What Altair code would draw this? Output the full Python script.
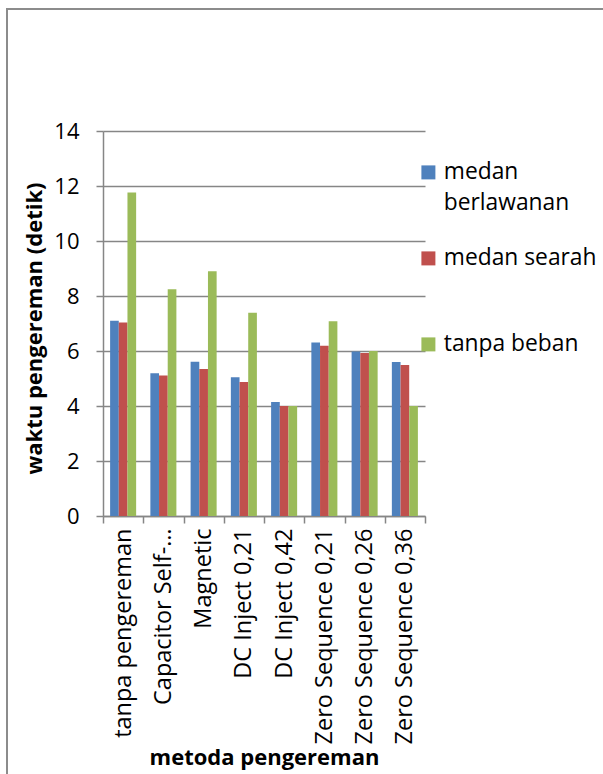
import altair as alt
import pandas as pd

# Braking methods on the x axis and the three load conditions
categories = [
    "tanpa pengereman",
    "Capacitor Self-…",
    "Magnetic",
    "DC Inject 0,21",
    "DC Inject 0,42",
    "Zero Sequence 0,21",
    "Zero Sequence 0,26",
    "Zero Sequence 0,36",
]
series = ["medan berlawanan", "medan searah", "tanpa beban"]

# Braking time (seconds) per method
medan_berlawanan = [7.10, 5.19, 5.61, 5.05, 4.15, 6.31, 5.98, 5.60]
medan_searah = [7.04, 5.11, 5.35, 4.87, 4.00, 6.19, 5.93, 5.49]
tanpa_beban = [11.76, 8.25, 8.90, 7.39, 4.00, 7.08, 6.00, 4.00]

y_ticks = [0, 2, 4, 6, 8, 10, 12, 14]
colors = ["#4F81BD", "#C0504D", "#9BBB59"]

values = {
    "medan berlawanan": medan_berlawanan,
    "medan searah": medan_searah,
    "tanpa beban": tanpa_beban,
}
rows = []
for s in series:
    for c, v in zip(categories, values[s]):
        rows.append({"metode": c, "seri": s, "waktu": v})
df = pd.DataFrame(rows)

GRAY = "#868686"
FONT = "Open Sans"
FS = 22

# Legend labels: the first series wraps onto a second line; the others are
# padded with empty lines so that every legend entry has the same height.
legend_label = (
    "datum.label == 'medan berlawanan' ? ['medan', 'berlawanan', ''] "
    ": [datum.label, '', '']"
)

bars = alt.Chart(df).mark_bar().encode(
    x=alt.X(
        "metode:N",
        sort=categories,
        scale=alt.Scale(paddingInner=0, paddingOuter=0),
        axis=alt.Axis(
            title="metoda pengereman",
            labelAngle=-90,
            labelFontSize=23.5,
            labelColor="#000000",
            labelPadding=5,
            labelLimit=400,
            tickBand="extent",
            tickSize=7,
            tickColor=GRAY,
            tickWidth=1.5,
            domainColor=GRAY,
            domainWidth=1.5,
            grid=False,
            titleFontSize=FS,
            titleFontWeight="bold",
            titleColor="#000000",
            titleY=241,
            titleBaseline="middle",
        ),
    ),
    xOffset=alt.XOffset(
        "seri:N", sort=series, scale=alt.Scale(paddingInner=0, paddingOuter=0.82)
    ),
    y=alt.Y(
        "waktu:Q",
        scale=alt.Scale(domain=[0, 14], nice=False),
        axis=alt.Axis(
            title="waktu pengereman (detik)",
            values=y_ticks,
            grid=True,
            gridColor=GRAY,
            gridWidth=1.5,
            domainColor=GRAY,
            domainWidth=1.5,
            tickColor=GRAY,
            tickWidth=1.5,
            tickSize=7,
            labelFontSize=FS,
            labelColor="#000000",
            labelPadding=17,
            titleFontSize=FS,
            titleFontWeight="bold",
            titleColor="#000000",
            titleX=-69,
            titleY=197,
            titleAlign="center",
            titleBaseline="middle",
        ),
    ),
    color=alt.Color(
        "seri:N",
        sort=series,
        scale=alt.Scale(domain=series, range=colors),
        legend=alt.Legend(
            title=None,
            orient="none",
            legendX=314,
            legendY=30,
            padding=0,
            symbolType="square",
            symbolSize=196,
            symbolStrokeWidth=0,
            labelFontSize=22.8,
            labelColor="#000000",
            labelOffset=4,
            labelLimit=300,
            labelBaseline="middle",
            rowPadding=-14,
            labelExpr=legend_label,
        ),
    ),
)

# Outer chart frame (left and top edges)
frame = pd.DataFrame({"k": [0]})
left_edge = alt.Chart(frame).mark_rule(color="#8c8c8c", strokeWidth=2).encode(
    x=alt.value(-96), y=alt.value(-122), y2=alt.value(700)
)
top_edge = alt.Chart(frame).mark_rule(color="#8c8c8c", strokeWidth=2).encode(
    x=alt.value(-97), x2=alt.value(560), y=alt.value(-122)
)

chart = (
    alt.layer(bars, left_edge, top_edge)
    .properties(
        width=322,
        height=385,
        autosize="none",
        padding={"left": 103, "top": 131, "right": 178, "bottom": 258},
        background="#ffffff",
    )
    .configure(font=FONT, style={"guide-label": {"lineHeight": 31}})
    .configure_view(strokeWidth=0)
)

chart.save("out.html", embed_options={"renderer": "svg", "actions": False})
